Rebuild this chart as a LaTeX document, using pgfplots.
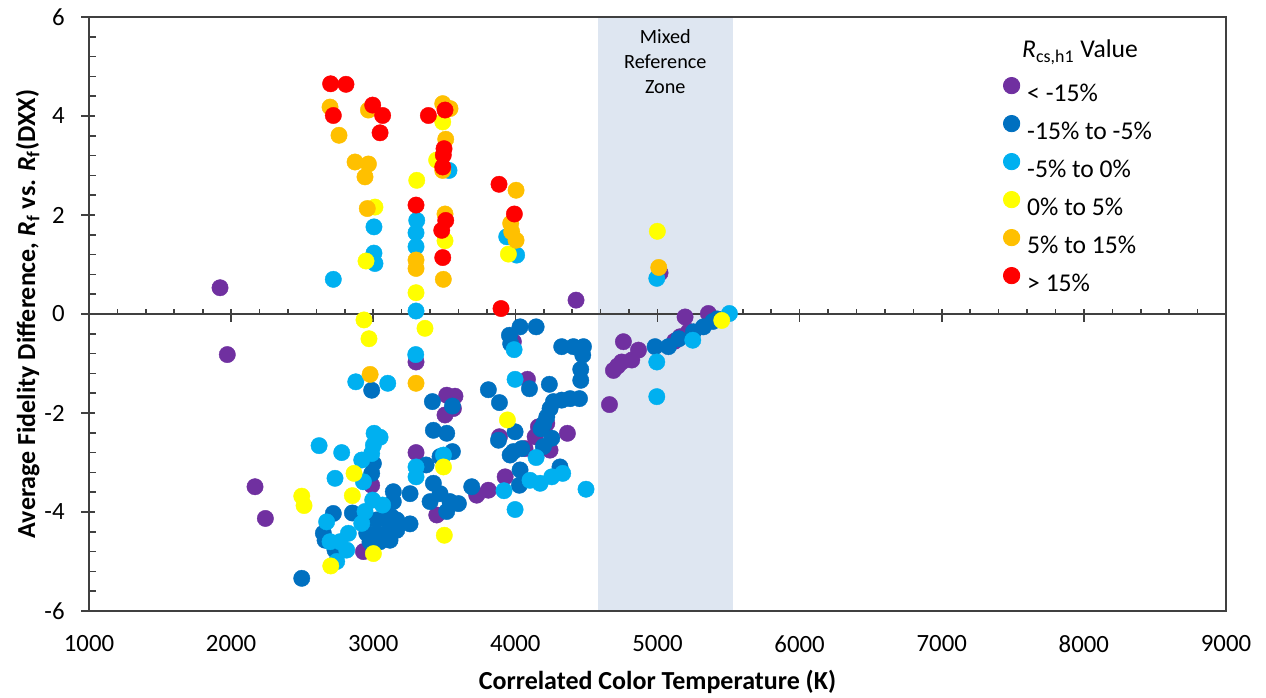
\documentclass[border=0pt]{standalone}
\usepackage{fontspec}
\setmainfont{Carlito}
\usepackage{pgfplots}
\pgfplotsset{compat=1.18}
\definecolor{cpur}{HTML}{7030A0}
\definecolor{cdb}{HTML}{0070C0}
\definecolor{clb}{HTML}{00B0F0}
\definecolor{cyel}{HTML}{FFFF00}
\definecolor{cor}{HTML}{FFC000}
\definecolor{cred}{HTML}{FF0000}
\definecolor{czone}{HTML}{DEE6F1}
\definecolor{caxis}{HTML}{404040}
\tikzset{axl/.style={draw=caxis, line width=0.8pt}}
\pgfplotsset{
  mk/.style={only marks, mark=*, mark size=4.1pt, color=#1, mark options={draw=#1, fill=#1, line width=0.2pt}},
}
\begin{document}
\begin{tikzpicture}
\begin{axis}[name=ax, scale only axis, width=568.5pt, height=297pt,
  xmin=1000, xmax=9000, ymin=-6, ymax=6, clip=false,
  xtick={1000,2000,...,9000}, ytick={-6,-4,...,6},
  major tick length=0pt, tick style={draw=none},
  /pgf/number format/assume math mode=true, /pgf/number format/1000 sep={},
  xticklabel style={anchor=north, inner sep=0pt, yshift=-12pt, font=\fontsize{12.4}{14}\selectfont},
  yticklabel style={anchor=east, inner sep=0pt, xshift=-12pt, font=\fontsize{12.4}{14}\selectfont},
  axis line style={draw=caxis, line width=0.9pt},
  axis on top,
  legend cell align=left,
  legend style={at={(rel axis cs:0,1)}, anchor=north west, xshift=457pt, yshift=-30pt,
    draw=none, fill=none, inner sep=0pt, outer sep=0pt,
    font=\fontsize{12.8}{15}\selectfont, row sep=4.2pt, column sep=3.5pt,
    nodes={inner sep=0pt, text height=11.5pt, text depth=2.5pt}},
  legend image code/.code={\fill[#1] (4.1pt,3.5pt) circle (4.1pt);},
]
\fill[czone] (axis cs:4580,-6) rectangle (axis cs:5530,6);
\draw[axl] (axis cs:1000,0) -- (axis cs:9000,0);
\pgfplotsinvokeforeach{1000,1200,...,9000}{\draw[axl] (axis cs:#1,0) -- ++(0pt,2.5pt);}
\pgfplotsinvokeforeach{1000,2000,...,9000}{\draw[axl] (axis cs:#1,0) ++(0pt,-4pt) -- ++(0pt,6.5pt);}
\pgfplotsinvokeforeach{-5.6,-5.2,-4.8,-4.4,-3.6,-3.2,-2.8,-2.4,-1.6,-1.2,-0.8,-0.4,0.4,0.8,1.2,1.6,2.4,2.8,3.2,3.6,4.4,4.8,5.2,5.6}{\draw[axl] (axis cs:1000,#1) -- ++(3.3pt,0pt);}
\pgfplotsinvokeforeach{-6,-4,-2,0,2,4,6}{\draw[axl] (axis cs:1000,#1) ++(-4pt,0pt) -- ++(7pt,0pt);}
\node[align=center, font=\fontsize{10.1}{12.5}\selectfont, anchor=north, inner sep=0pt, yshift=-6pt] at (axis cs:5055,6) {Mixed\\Reference\\Zone};

% < -15%
\addplot[mk=cpur] table {
1922 0.53
1973 -0.82
2168 -3.49
2241 -4.13
3301 -0.97
3517 -1.64
3575 -1.66
3505 -2.04
3301 -2.80
2989 -3.46
2931 -4.80
3447 -4.06
4427 0.28
5018 0.83
3986 -0.56
4085 -1.32
3564 -1.91
4162 -2.28
4221 -2.21
4139 -2.48
4244 -2.75
4366 -2.41
4068 -2.72
3888 -2.48
3928 -3.29
3810 -3.56
3728 -3.66
4662 -1.83
4690 -1.14
4720 -1.05
4760 -0.56
4748 -0.97
4819 -0.93
4866 -0.73
5120 -0.55
5159 -0.46
5194 -0.06
5220 -0.35
5358 0.01
};
\addlegendentry{< -15\%}
% -15% to -5%
\addplot[mk=cdb] table {
2989 -1.54
3416 -1.77
3557 -1.86
3423 -2.35
3517 -2.41
3557 -2.78
3470 -2.88
3372 -3.05
2989 -3.22
3001 -3.02
3141 -3.59
3259 -3.63
3423 -3.42
3470 -3.63
3400 -3.79
3540 -3.79
3517 -3.99
2719 -4.03
2853 -4.02
2649 -4.43
2661 -4.57
2731 -4.77
2497 -5.34
2954 -4.16
3024 -4.16
3095 -4.16
3165 -4.16
3259 -4.24
2954 -4.43
3024 -4.43
3095 -4.43
3165 -4.37
2977 -4.60
3048 -4.60
3118 -4.57
3001 -4.70
3141 -3.79
3130 -4.10
4033 -0.26
4146 -0.26
3958 -0.43
3967 -0.60
4326 -0.66
4408 -0.66
4479 -0.66
4474 -0.83
4460 -1.12
4460 -1.34
4451 -1.71
4385 -1.71
4326 -1.74
4268 -1.77
4244 -1.91
4221 -2.08
4200 -2.22
4180 -2.32
4239 -1.42
4099 -1.51
3810 -1.53
3888 -1.79
3998 -2.38
3881 -2.55
4256 -2.51
4197 -2.68
3986 -2.78
4045 -2.72
3963 -2.85
4033 -3.15
4028 -3.46
4314 -3.09
3693 -3.49
3599 -3.83
4983 -0.66
5077 -0.66
5150 -0.50
5253 -0.36
5323 -0.26
5390 -0.15
5420 -0.10
};
\addlegendentry{-15\% to -5\%}
% -5% to 0%
\addplot[mk=clb] table {
2719 0.70
3005 1.76
3005 1.23
3012 1.02
3306 1.89
3301 1.64
3301 1.36
3301 0.06
3533 2.90
3939 1.56
4009 1.19
4995 0.72
3299 -0.82
2877 -1.37
3102 -1.40
3006 -2.41
3048 -2.49
2619 -2.66
2778 -2.80
3001 -2.65
2989 -2.82
2919 -2.95
2731 -3.32
2931 -3.39
3301 -3.09
3301 -3.29
3494 -2.85
2996 -3.76
3066 -3.86
2942 -3.99
2919 -4.23
2672 -4.20
2825 -4.43
2696 -4.60
2766 -4.60
2813 -4.77
2743 -5.00
3991 -0.72
3998 -1.32
4146 -2.90
4103 -3.36
4174 -3.42
4256 -3.29
4333 -3.22
4497 -3.54
3920 -3.57
3998 -3.95
4995 -0.97
4995 -1.67
5248 -0.53
5506 0.01
};
\addlegendentry{-5\% to 0\%}
% 0% to 5%
\addplot[mk=cyel] table {
3489 3.88
3306 2.70
3012 2.16
2949 1.07
3301 0.43
3505 1.48
3951 1.21
3446 3.11
2935 -0.12
2970 -0.50
3364 -0.29
2865 -3.22
2853 -3.67
2497 -3.68
2513 -3.87
2701 -5.09
3001 -4.84
3494 -3.09
3500 -4.47
3944 -2.14
4999 1.67
5452 -0.13
};
\addlegendentry{0\% to 5\%}
% 5% to 15%
\addplot[mk=cor] table {
2696 4.18
2966 4.12
2759 3.61
2872 3.07
2966 3.03
2942 2.77
2958 2.13
3489 4.25
3540 4.15
3510 3.53
3505 2.02
3493 0.70
3301 1.09
3301 0.92
4005 2.50
3967 1.83
3974 1.66
4005 1.49
3489 2.90
5009 0.94
2978 -1.22
3301 -1.40
};
\addlegendentry{5\% to 15\%}
% > 15%
\addplot[mk=cred] table {
2700 4.65
2808 4.64
2719 4.01
2996 4.22
3066 4.01
3048 3.66
3388 4.01
3505 4.12
3498 3.34
3493 3.21
3489 2.97
3301 2.20
3510 1.89
3482 1.69
3489 1.14
3885 2.62
3993 2.02
3899 0.11
};
\addlegendentry{> 15\%}
\end{axis}
\node[anchor=base, inner sep=0pt, font=\fontsize{12.8}{15}\selectfont] at ([xshift=495.5pt,yshift=-20.5pt]ax.north west) {\textit{R}\textsubscript{cs,h1} Value};
\node[anchor=base, inner sep=0pt, font=\bfseries\fontsize{13}{15}\selectfont] at ([yshift=-39.5pt]ax.south) {Correlated Color Temperature (K)};
\node[anchor=base, rotate=90, inner sep=0pt, font=\bfseries\fontsize{13}{15}\selectfont] at ([xshift=-27pt]ax.west) {Average Fidelity Difference, \textit{R}\textsubscript{f} vs. \textit{R}\textsubscript{f}(DXX)};
\pgfresetboundingbox
\path[use as bounding box] ([xshift=-44.5pt,yshift=-43.5pt]ax.south west) rectangle ([xshift=20pt,yshift=8.5pt]ax.north east);
\end{tikzpicture}
\end{document}
